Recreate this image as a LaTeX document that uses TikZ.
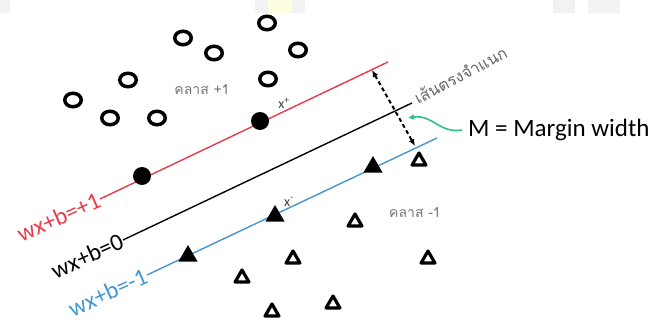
\documentclass[tikz,border=0pt]{standalone}
\usepackage{fontspec}
\setmainfont{Carlito}
\newfontfamily\thaifont[Script=Thai]{Loma}
\usetikzlibrary{shapes.geometric,arrows.meta}
\definecolor{svmred}{RGB}{232,60,75}
\definecolor{svmblue}{RGB}{70,150,210}
\definecolor{svmgreen}{RGB}{40,195,135}
\definecolor{txtgray}{RGB}{120,120,120}
\begin{document}
\begin{tikzpicture}[x=1pt,y=-1pt,
  opencirc/.style={ellipse,draw,line width=3.5pt,minimum width=16.5pt,minimum height=13.5pt,inner sep=0pt},
  fillcirc/.style={circle,fill,minimum size=18pt,inner sep=0pt},
  opentri/.style={regular polygon,regular polygon sides=3,draw,line width=3.2pt,line join=round,minimum size=16pt,inner sep=0pt},
  filltri/.style={regular polygon,regular polygon sides=3,fill,minimum size=22pt,inner sep=0pt},
  eqlabel/.style={font=\fontsize{24}{28}\selectfont,anchor=east,rotate=24,inner sep=1pt},
  thailabel/.style={font=\thaifont\fontsize{14}{16}\selectfont,text=txtgray,inner sep=0pt},
  sublabel/.style={font=\fontsize{14}{16}\selectfont,text=black!75,inner sep=0pt},
  faint/.style={draw=none}
]
\useasboundingbox[fill=white] (0,0) rectangle (660,323);
% faint blocks at the top edge
\fill[faint,fill=gray!10] (0,0) rectangle (10,13);
\fill[faint,fill=gray!10] (255,0) rectangle (268,13);
\fill[faint,fill=yellow!12] (268,0) rectangle (292,13);
\fill[faint,fill=gray!10] (292,0) rectangle (305,13);
\fill[faint,fill=gray!10] (553,0) rectangle (575,13);
\fill[faint,fill=gray!10] (588,0) rectangle (620,13);

% line labels and lines
\node[eqlabel,text=svmred] (lred) at (100,199) {wx+b=+1};
\node[eqlabel,text=black] (lblack) at (123,240) {wx+b=0};
\node[eqlabel,text=svmblue] (lblue) at (147,275) {wx+b=-1};
\coordinate (redend) at (388,62);
\coordinate (blackend) at (412,103);
\coordinate (blueend) at (437,138);
\draw[svmred,line width=1.4pt] (lred.east) -- (redend);
\draw[black,line width=1.4pt] (lblack.east) -- (blackend);
\draw[svmblue,line width=1.4pt] (lblue.east) -- (blueend);

% class +1
\node[opencirc] (c1) at (267,23) {};
\node[opencirc] (c2) at (183,38) {};
\node[opencirc] (c3) at (214,53) {};
\node[opencirc] (c4) at (298,50) {};
\node[opencirc] (c5) at (128,80) {};
\node[opencirc] (c6) at (268,79) {};
\node[opencirc] (c7) at (73,100) {};
\node[opencirc] (c8) at (110,118) {};
\node[opencirc] (c9) at (157,118) {};
\node[fillcirc] (f1) at (260,121) {};
\node[fillcirc] (f2) at (142,176) {};

% class -1
\node[filltri] (t1) at (275,216) {};
\node[filltri] (t2) at (188,256) {};
\node[filltri] (t3) at (373,167) {};
\node[opentri] (o1) at (419,161) {};
\node[opentri] (o2) at (293,259) {};
\node[opentri] (o3) at (242,278) {};
\node[opentri] (o4) at (272,312) {};
\node[opentri] (o5) at (355,222) {};
\node[opentri] (o6) at (428,259) {};
\node[opentri] (o7) at (333,304) {};

% texts
\node[thailabel] (cp) at (202,90) {คลาส +1};
\node[thailabel] (cm) at (415,213) {คลาส -1};
\node[sublabel] (xp) at (284,103) {x\textsuperscript{+}};
\node[sublabel] (xm) at (289,202) {x\textsuperscript{-}};
\node[thailabel,font=\thaifont\fontsize{16}{18}\selectfont,text=black!60,anchor=west,rotate=28] (sep) at (415,99) {เส้นตรงจำแนก};

% margin arrow
\coordinate (mtop) at (372,70);
\coordinate (mbot) at (415,146);
\draw[line width=2pt,dash pattern=on 4pt off 3pt,{Latex[length=7pt,width=6pt]}-{Latex[length=7pt,width=6pt]}] (mtop) -- (mbot);

% margin label and green pointer
\node[font=\fontsize{25}{30}\selectfont,anchor=west,inner sep=0pt] (mw) at (468,130) {M = Margin width};
\coordinate (gtip) at (408,118);
\draw[svmgreen,line width=1.6pt,-{Latex[length=6pt,width=6pt]}] (mw.west) ++(-6,0) .. controls (440,134) and (432,114) .. (gtip);
\end{tikzpicture}
\end{document}
